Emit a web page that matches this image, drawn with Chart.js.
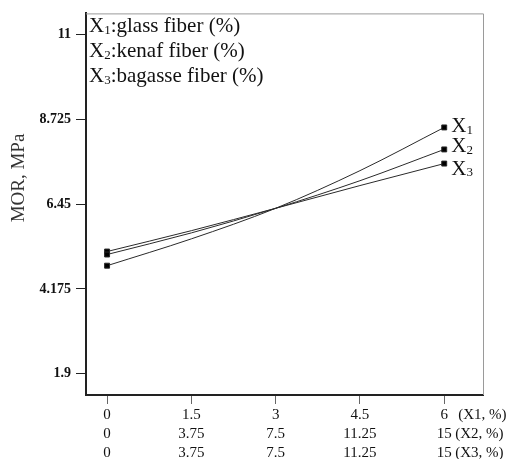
<!DOCTYPE html>
<html>
<head>
<meta charset="utf-8">
<script src="https://cdn.jsdelivr.net/npm/chart.js@4"></script>
<style>
  body { margin: 0; background: #fff; }
  canvas { display: block; }
</style>
</head>
<body>
<canvas id="chart" width="516" height="459"></canvas>
<script>
// x levels (coded on the X1 scale) and the three rows of tick labels
const xLevels = [0, 1.5, 3, 4.5, 6];
const x1Labels = ["0", "1.5", "3", "4.5", "6"];
const x2Labels = ["0", "3.75", "7.5", "11.25", "15"];
const x3Labels = ["0", "3.75", "7.5", "11.25", "15"];
const xSuffix = ["(X1, %)", "(X2, %)", "(X3, %)"];

const yTicks = [1.9, 4.175, 6.45, 8.725, 11];

// MOR, MPa
const morX1 = [4.80, 5.52, 6.34, 7.35, 8.51];
const morX2 = [5.10, 5.68, 6.34, 7.08, 7.92];
const morX3 = [5.18, 5.74, 6.34, 6.95, 7.54];

const legendLines = [
  ["X", "1", ":glass fiber (%)"],
  ["X", "2", ":kenaf fiber (%)"],
  ["X", "3", ":bagasse fiber (%)"]
];
const seriesSub = ["1", "2", "3"];
const labelShift = [-2, -4, 4]; // keep the end labels apart

const SERIF = "'Liberation Serif', 'DejaVu Serif', serif";

// draws "X" + small subscript + rest
function subText(ctx, x, y, main, sub, rest, size) {
  ctx.font = size + "px " + SERIF;
  ctx.fillText(main, x, y);
  x += ctx.measureText(main).width;
  ctx.font = Math.round(size * 0.62) + "px " + SERIF;
  ctx.fillText(sub, x, y + size * 0.08);
  x += ctx.measureText(sub).width;
  if (rest) {
    ctx.font = size + "px " + SERIF;
    ctx.fillText(rest, x, y);
  }
}

const extras = {
  id: "extras",
  afterDraw(chart) {
    const ctx = chart.ctx;
    const a = chart.chartArea;
    ctx.save();

    // light top / right frame
    ctx.strokeStyle = "#9a9a9a";
    ctx.lineWidth = 1;
    ctx.beginPath();
    ctx.moveTo(a.left, a.top + 0.5);
    ctx.lineTo(a.right + 0.5, a.top + 0.5);
    ctx.lineTo(a.right + 0.5, a.bottom);
    ctx.stroke();

    ctx.fillStyle = "#111";
    ctx.textBaseline = "alphabetic";
    ctx.textAlign = "left";

    // factor legend in the top left corner
    legendLines.forEach((l, i) => {
      subText(ctx, a.left + 3, a.top + 19 + i * 25, l[0], l[1], l[2], 21);
    });

    // series labels next to the last points
    chart.data.datasets.forEach((ds, i) => {
      const pts = chart.getDatasetMeta(i).data;
      const p = pts[pts.length - 1];
      subText(ctx, p.x + 7, p.y + 7 + labelShift[i], "X", seriesSub[i], "", 21);
    });

    // suffixes after the last x tick
    const xs = chart.scales.x;
    const px = xs.getPixelForValue(xLevels[xLevels.length - 1]);
    ctx.font = "15px " + SERIF;
    ctx.textBaseline = "middle";
    xSuffix.forEach((s, i) => {
      ctx.fillText(s, px + (i === 0 ? 14 : 11), a.bottom + 20 + i * 19);
    });

    // y axis title
    ctx.translate(19, 178);
    ctx.rotate(-Math.PI / 2);
    ctx.textAlign = "center";
    ctx.font = "19px " + SERIF;
    ctx.fillStyle = "#333";
    ctx.fillText("MOR, MPa", 0, 0);
    ctx.restore();
  }
};

function lineSet(data) {
  return {
    data: xLevels.map((x, i) => ({ x: x, y: data[i] })),
    borderColor: "#2a2a2a",
    borderWidth: 1,
    backgroundColor: "#000",
    pointStyle: "rect",
    pointRadius: data.map((v, i) => (i === 0 || i === data.length - 1 ? 3.5 : 0)),
    cubicInterpolationMode: "monotone",
    fill: false
  };
}

new Chart(document.getElementById("chart"), {
  type: "line",
  data: {
    datasets: [lineSet(morX1), lineSet(morX2), lineSet(morX3)]
  },
  options: {
    responsive: false,
    animation: false,
    layout: { padding: { top: 13, right: 33, left: 0, bottom: 0 } },
    plugins: { legend: { display: false }, tooltip: { enabled: false } },
    scales: {
      x: {
        type: "linear",
        min: -0.375,
        max: 6.69,
        afterBuildTicks: (s) => { s.ticks = xLevels.map((v) => ({ value: v })); },
        afterFit: (s) => { s.height = 64; },
        ticks: {
          autoSkip: false,
          maxRotation: 0,
          padding: 2,
          color: "#111",
          font: { family: SERIF, size: 15, lineHeight: 19 / 15 },
          callback: (v, i) => [x1Labels[i], x2Labels[i], x3Labels[i]]
        },
        grid: { drawOnChartArea: false, tickLength: 9, color: "#666" },
        border: { color: "#222", width: 2 }
      },
      y: {
        min: 1.33,
        max: 11.57,
        afterBuildTicks: (s) => { s.ticks = yTicks.map((v) => ({ value: v })); },
        afterFit: (s) => { s.width = 86; },
        ticks: {
          padding: 5,
          color: "#111",
          font: { family: SERIF, size: 14, weight: "bold" },
          callback: (v) => String(v)
        },
        grid: { drawOnChartArea: false, tickLength: 10, color: "#222" },
        border: { color: "#222", width: 2 }
      }
    }
  },
  plugins: [extras]
});
</script>
</body>
</html>
